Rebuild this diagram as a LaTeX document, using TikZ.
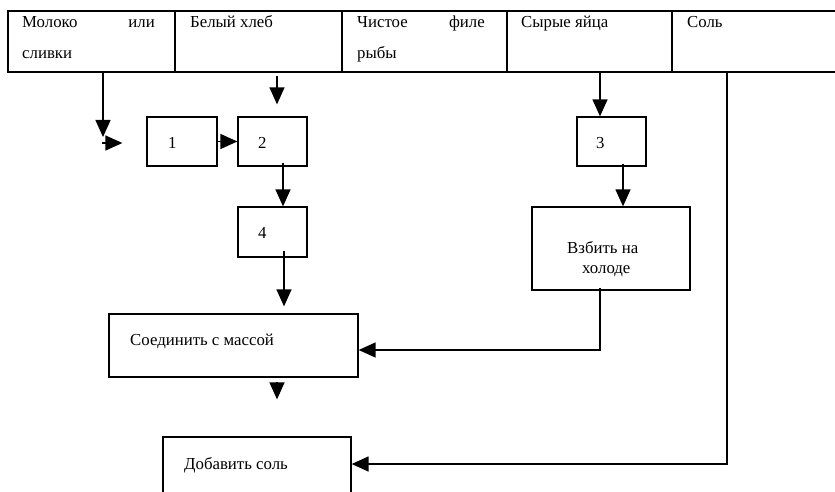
\documentclass[tikz,border=0pt]{standalone}
\usepackage{fontspec}
\setmainfont{Liberation Serif}
\usetikzlibrary{arrows.meta}
\begin{document}
\begin{tikzpicture}[x=1pt,y=-1pt,
  cell/.style={draw, line width=1.2pt, inner sep=0pt},
  box/.style={draw, line width=1.3pt, inner sep=0pt, fill=white},
  txt/.style={inner sep=0pt, font=\fontsize{16.8}{20}\selectfont},
  arr/.style={line width=1.4pt, -{Triangle[width=15pt,length=17pt]}},
  ln/.style={line width=1.4pt}]
\useasboundingbox (0,0) rectangle (835,492);
\clip (0,0) rectangle (835,492);
\fill[white] (0,0) rectangle (835,492);
% table
\node[cell, minimum width=167pt, minimum height=61pt] (c1) at (91.5,41.5) {};
\node[cell, minimum width=167pt, minimum height=61pt] (c2) at (258.5,41.5) {};
\node[cell, minimum width=165pt, minimum height=61pt] (c3) at (424.5,41.5) {};
\node[cell, minimum width=165pt, minimum height=61pt] (c4) at (589.5,41.5) {};
\node[cell, minimum width=168pt, minimum height=61pt] (c5) at (756,41.5) {};
\node[txt, anchor=base west] (tMol) at (22,28) {Молоко};
\node[txt, anchor=base east] (tIli) at (155,28) {или};
\node[txt, anchor=base west] (tSl) at (22,59) {сливки};
\node[txt, anchor=base west] (tBr) at (190,28) {Белый хлеб};
\node[txt, anchor=base west] (tCh) at (357,28) {Чистое};
\node[txt, anchor=base east] (tFi) at (485,28) {филе};
\node[txt, anchor=base west] (tRy) at (357,59) {рыбы};
\node[txt, anchor=base west] (tEg) at (521,28) {Сырые яйца};
\node[txt, anchor=base west] (tSa) at (687,28) {Соль};
% boxes
\node[box, minimum width=70pt, minimum height=49pt] (b1) at (182,141.5) {};
\node[box, minimum width=69pt, minimum height=49pt] (b2) at (272.5,141.5) {};
\node[box, minimum width=69pt, minimum height=49pt] (b3) at (611.5,141.5) {};
\node[box, minimum width=69pt, minimum height=50pt] (b4) at (272.5,232) {};
\node[box, minimum width=158pt, minimum height=83pt] (whip) at (611,248.5) {};
\node[box, minimum width=249pt, minimum height=63pt] (join) at (233.5,345.5) {};
\node[box, minimum width=188pt, minimum height=63pt] (add) at (257,468.5) {};
\node[txt, anchor=base west] (t1) at (168,149) {1};
\node[txt, anchor=base west] (t2) at (258,149) {2};
\node[txt, anchor=base west] (t3) at (596,149) {3};
\node[txt, anchor=base west] (t4) at (258,238) {4};
\node[txt, anchor=base west] (tW1) at (567,253) {Взбить на};
\node[txt, anchor=base west] (tW2) at (582,273) {холоде};
\node[txt, anchor=base west] (tJ) at (130,345) {Соединить с массой};
\node[txt, anchor=base west] (tA) at (184,469) {Добавить соль};
% helper coordinates
\coordinate (m1) at (103,137);
\coordinate (m2) at (102,143);
\coordinate (x277) at (277,0);
\coordinate (x283) at (283,0);
\coordinate (x284) at (284,0);
\coordinate (x600) at (600,0);
\coordinate (x623) at (623,0);
\coordinate (x727) at (727,0);
% connectors
\draw[arr] (c1.south -| m1) -- (m1);
\draw[arr, shorten >=24pt] (m2) -- (m2 -| b1.west);
\draw[arr] (b1.east) -- (b2.west);
\draw[arr, shorten <=3pt, shorten >=12pt] (c2.south -| x277) -- (b2.north -| x277);
\draw[arr, shorten <=-4pt] (b2.south -| x283) -- (b4.north -| x283);
\draw[arr, shorten <=-7pt, shorten >=7pt] (b4.south -| x284) -- (join.north -| x284);
\draw[arr, shorten <=4pt, shorten >=37pt] (join.south -| x277) -- (add.north -| x277);
\draw[arr] (c4.south -| x600) -- (b3.north -| x600);
\draw[arr, shorten <=-3pt] (b3.south -| x623) -- (whip.north -| x623);
\draw[arr] ([yshift=3pt]whip.south -| x600) |- ([yshift=-4.5pt]join.east);
\draw[arr] (c5.south -| x727) |- ([yshift=4.5pt]add.east);
\end{tikzpicture}
\end{document}
